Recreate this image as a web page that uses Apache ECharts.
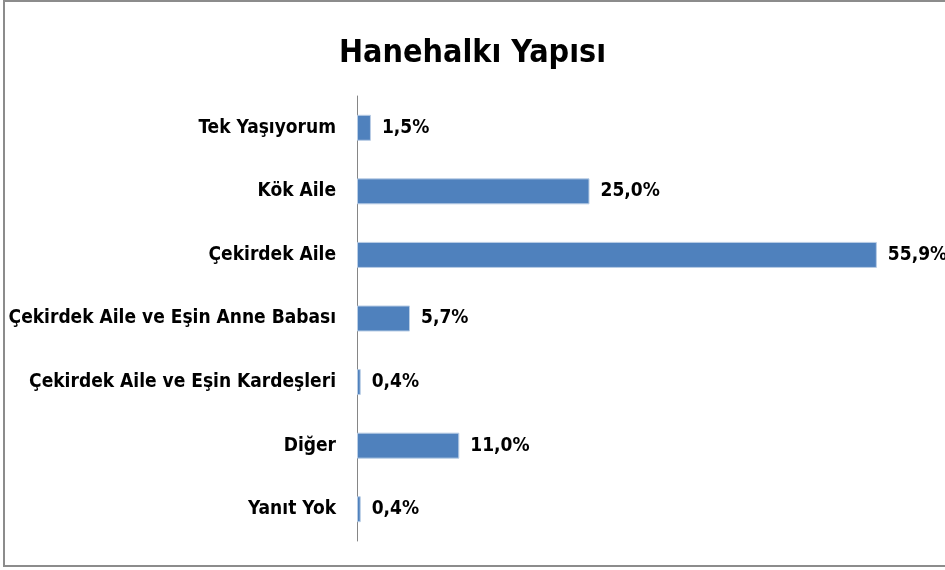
<!DOCTYPE html>
<html>
<head>
<meta charset="utf-8">
<script src="https://cdn.jsdelivr.net/npm/echarts@6/dist/echarts.min.js"></script>
<style>
  html, body { margin: 0; padding: 0; background: #fff; }
  #chart { width: 945px; height: 570px; }
</style>
</head>
<body>
<div id="chart"></div>
<script>
// Kategoriler (yukarıdan aşağıya)
const categories = [
  'Tek Yaşıyorum',
  'Kök Aile',
  'Çekirdek Aile',
  'Çekirdek Aile ve Eşin Anne Babası',
  'Çekirdek Aile ve Eşin Kardeşleri',
  'Diğer',
  'Yanıt Yok'
];
const values = [1.5, 25.0, 55.9, 5.7, 0.4, 11.0, 0.4];

const FONT = '"Liberation Sans Narrow", "DejaVu Sans Condensed", "Open Sans", sans-serif';

const chart = echarts.init(document.getElementById('chart'));

const option = {
  backgroundColor: '#fff',
  animation: false,
  title: {
    text: 'Hanehalkı Yapısı',
    left: 'center',
    top: 33,
    textStyle: {
      fontFamily: FONT,
      fontSize: 32,
      fontWeight: 'bold',
      color: '#000'
    }
  },
  graphic: [{
    type: 'rect',
    shape: { x: 4, y: 1, width: 950, height: 565 },
    style: { fill: 'none', stroke: '#8c8c8c', lineWidth: 2 },
    silent: true
  }],
  grid: {
    left: 357,
    top: 96,
    width: 558,
    height: 445,
    outerBoundsMode: 'none'
  },
  xAxis: {
    type: 'value',
    min: 0,
    max: 60,
    show: false
  },
  yAxis: {
    type: 'category',
    inverse: true,
    data: categories,
    axisLine: { show: true, lineStyle: { color: '#868686', width: 1 } },
    axisTick: { show: false },
    axisLabel: {
      margin: 21,
      fontFamily: FONT,
      fontSize: 19,
      fontWeight: 'bold',
      color: '#000'
    }
  },
  series: [{
    type: 'bar',
    data: values,
    barWidth: 26,
    itemStyle: {
      color: '#4F81BD',
      borderColor: '#B9CDE5',
      borderWidth: 1
    },
    label: {
      show: true,
      position: 'right',
      distance: 11,
      fontFamily: FONT,
      fontSize: 19,
      fontWeight: 'bold',
      color: '#000',
      formatter: function (p) {
        return p.value.toFixed(1).replace('.', ',') + '%';
      }
    }
  }]
};

chart.setOption(option);
</script>
</body>
</html>
